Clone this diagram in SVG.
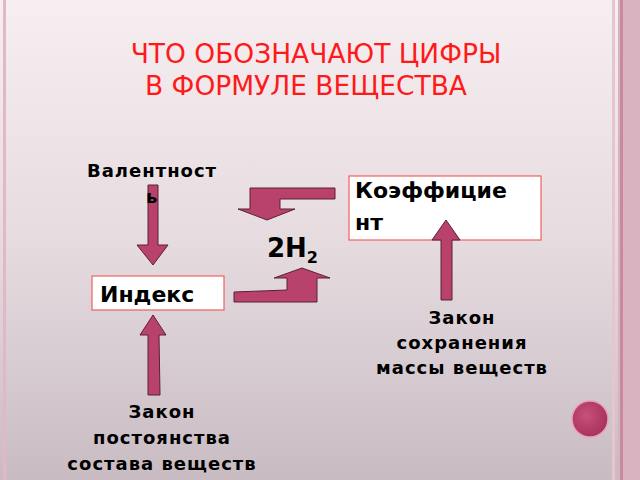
<svg xmlns="http://www.w3.org/2000/svg" width="640" height="480" viewBox="0 0 640 480">
<defs>
<linearGradient id="bg" x1="0" y1="0" x2="0" y2="1"><stop offset="0" stop-color="#f7eef1"/><stop offset="0.5" stop-color="#e6dce0"/><stop offset="1" stop-color="#c8bcc2"/></linearGradient>
<radialGradient id="ball" cx="0.4" cy="0.4" r="0.6"><stop offset="0" stop-color="#c8507a"/><stop offset="1" stop-color="#a8335c"/></radialGradient>
</defs>
<style>
.t{font-family:"DejaVu Sans",sans-serif;font-weight:bold;fill:#000}
.l{font-size:18px;letter-spacing:1px}
.ar{fill:#b8426c;stroke:#5a2035;stroke-width:1}
.box{fill:#fff;stroke:#f06060;stroke-width:1.2}
</style>
<rect width="640" height="480" fill="url(#bg)"/>
<rect x="3" y="0" width="3" height="480" fill="#e0b8c6"/>
<rect x="612" y="0" width="3" height="480" fill="#e6c4d0"/>
<rect x="618" y="0" width="22" height="480" fill="#d9b4c0"/>
<rect x="620" y="0" width="3" height="480" fill="#c98aa0"/>
<text x="316" y="63" text-anchor="middle" font-family="DejaVu Sans,sans-serif" font-size="26.5" fill="#ff1a1a">ЧТО ОБОЗНАЧАЮТ ЦИФРЫ</text>
<text x="306" y="95" text-anchor="middle" font-family="DejaVu Sans,sans-serif" font-size="26.5" fill="#ff1a1a">В ФОРМУЛЕ ВЕЩЕСТВА</text>
<g id="koeff"><rect class="box" x="349" y="176" width="192" height="64"/><text class="t" x="355" y="198" font-size="22">Коэффицие</text><text class="t" x="355" y="230" font-size="22">нт</text></g>
<g id="index"><rect class="box" x="92" y="276" width="132" height="34"/><text class="t" x="100" y="302" font-size="22">Индекс</text></g>
<g id="formula"><text class="t" x="267" y="257" font-size="26">2H<tspan font-size="16" dy="6">2</tspan></text></g>
<g id="law1"><text class="t l" text-anchor="middle"><tspan x="462" y="324">Закон</tspan><tspan x="462" y="349">сохранения</tspan><tspan x="462" y="374">массы веществ</tspan></text></g>
<g id="law2"><text class="t l" text-anchor="middle"><tspan x="162" y="418">Закон</tspan><tspan x="162" y="444">постоянства</tspan><tspan x="162" y="470">состава веществ</tspan></text></g>
<circle cx="590" cy="419" r="18" fill="url(#ball)" stroke="#e9a0b8" stroke-width="1.5"/>
<g id="connectors">
<polygon class="ar" points="148,185 158,185 158,245 168,245 153,265 137,245 148,245"/>
<polygon class="ar" points="250,188 335,188 335,199 280,199 280,209 295,209 267,220 238,209 250,209"/>
<polygon class="ar" points="234,292 287,290 287,278 274,278 302,268 330,278 317,278 317,302 234,302"/>
<polygon class="ar" points="148,395 160,395 159,335 166,335 153,315 140,335 148,335"/>
<polygon class="ar" points="441,300 452,300 452,240 460,240 446,220 432,240 441,240"/>
</g>
<g id="valentnost"><text class="t l" x="87" y="177">Валентност</text><text class="t l" x="146" y="203">ь</text></g>
</svg>
